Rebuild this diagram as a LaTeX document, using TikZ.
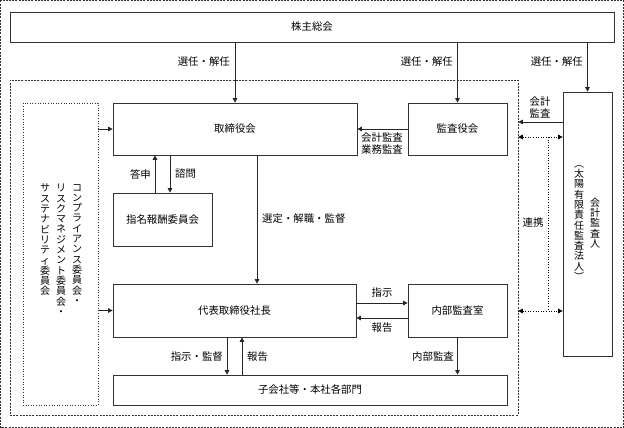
\documentclass[tikz,border=0pt]{standalone}
\usepackage{fontspec}
\newfontfamily\jpfont{Noto Sans CJK JP}
\usetikzlibrary{arrows.meta, positioning}

\tikzset{
  box/.style={draw=black!80, line width=0.7pt, inner sep=0pt},
  frame/.style={draw=black!80, line width=0.6pt, dash pattern=on 2pt off 1.2pt},
  arr/.style={-{Triangle[length=4.5pt, width=4.5pt]}, line width=0.7pt, draw=black!85},
  renkei/.style={{Triangle[length=4.5pt, width=4.5pt]}-{Triangle[length=4.5pt, width=4.5pt]}, line width=0.6pt, dotted},
  tate/.style={align=center, inner sep=0pt, font=\jpfont\fontsize{10}{10.3}\selectfont},
  lbl/.style={inner sep=0pt},
}

\begin{document}
\begin{tikzpicture}[x=1pt, y=-1pt, font=\jpfont\fontsize{10.4}{12}\selectfont]
  \useasboundingbox (0,0) rectangle (624,428);
  % outer frame
  \draw[frame] (0.5,0.5) rectangle (623.5,427.5);

  % shareholders meeting
  \node[box, minimum width=604pt, minimum height=30pt] (kabunushi) at (312,27) {株主総会};

  % company frame
  \node[frame, minimum width=508pt, minimum height=335pt, inner sep=0pt] (kaisha) at (264,247.5) {};

  % boxes
  \node[box, minimum width=244pt, minimum height=52pt] (torishimari) at (235,129) {取締役会};
  \node[box, minimum width=99pt, minimum height=52pt] (kansayaku) at (457.5,129) {監査役会};
  \node[box, minimum width=99pt, minimum height=53pt] (shimei) at (162.5,219.5) {指名報酬委員会};
  \node[box, minimum width=243pt, minimum height=53pt] (shacho) at (234.5,310.5) {代表取締役社長};
  \node[box, minimum width=99pt, minimum height=53pt] (naibu) at (457.5,310.5) {内部監査室};
  \node[box, minimum width=394pt, minimum height=30pt] (kogaisha) at (310,390) {子会社等・本社各部門};
  \node[box, minimum width=49pt, minimum height=264pt] (kansanin) at (587.5,224) {};
  \node[draw=black!80, dotted, line width=0.6pt, minimum width=75pt, minimum height=302pt, inner sep=0pt] (iinkai) at (60.5,254) {};

  % vertical texts
  \node[tate] (kansanin1) at (595,223) {会\\計\\監\\査\\人};
  \node[tate] (kansanin2) at (579,223) {︵\\太\\陽\\有\\限\\責\\任\\監\\査\\法\\人\\︶};
  \node[tate, anchor=north] (iinkai1) at (77,184) {コ\\ン\\プ\\ラ\\イ\\ア\\ン\\ス\\委\\員\\会\\・};
  \node[tate, anchor=north] (iinkai2) at (61,184) {リ\\ス\\ク\\マ\\ネ\\ジ\\メ\\ン\\ト\\委\\員\\会\\・};
  \node[tate, anchor=north] (iinkai3) at (45,184) {サ\\ス\\テ\\ナ\\ビ\\リ\\テ\\ィ\\委\\員\\会};

  % election / dismissal
  \draw[arr] (kabunushi.south -| torishimari) -- (torishimari.north);
  \draw[arr] (kabunushi.south -| kansayaku) -- (kansayaku.north);
  \draw[arr] (kabunushi.south -| kansanin) -- (kansanin.north);
  \node[lbl, anchor=east] (sennin1) at (230,62) {選任・解任};
  \node[lbl, anchor=east] (sennin2) at (453,62) {選任・解任};
  \node[lbl, anchor=east] (sennin3) at (583,62) {選任・解任};

  % board and committee
  \draw[arr] ([xshift=-7.5pt]shimei.north) -- ([xshift=-7.5pt]shimei.north |- torishimari.south);
  \draw[arr] ([xshift=7.5pt]shimei.north |- torishimari.south) -- ([xshift=7.5pt]shimei.north);
  \node[lbl, anchor=east] (toushin) at (151,174) {答申};
  \node[lbl, anchor=west] (shimon) at (175,174) {諮問};

  \draw[arr] ([xshift=22pt]torishimari.south) -- ([xshift=22pt]torishimari.south |- shacho.north);
  \node[lbl, anchor=west] (sentei) at (262,219) {選定・解職・監督};

  \draw[arr] (kansayaku.west) -- (torishimari.east);
  \node[lbl, align=center] (gyomu) at (382,144) {会計監査\\業務監査};

  % committees
  \draw[arr] (iinkai.east |- torishimari.west) -- (torishimari.west);
  \draw[arr] (iinkai.east |- shacho.west) -- (shacho.west);

  % president and internal audit
  \draw[arr] ([yshift=7.5pt]shacho.east) -- ([yshift=7.5pt]shacho.east -| naibu.west);
  \draw[arr] ([yshift=-7.5pt]naibu.west) -- ([yshift=-7.5pt]naibu.west -| shacho.east);
  \node[lbl] (shiji) at (382,293) {指示};
  \node[lbl] (houkoku1) at (382,328) {報告};

  \draw[arr] (naibu.south) -- (naibu.south |- kogaisha.north);
  \node[lbl, anchor=east] (naibukansa) at (454,357) {内部監査};

  \draw[arr] ([xshift=-7.5pt]shacho.south) -- ([xshift=-7.5pt]shacho.south |- kogaisha.north);
  \draw[arr] ([xshift=7.5pt]shacho.south |- kogaisha.north) -- ([xshift=7.5pt]shacho.south);
  \node[lbl, anchor=east] (shijikantoku) at (223,357) {指示・監督};
  \node[lbl, anchor=west] (houkoku2) at (247,357) {報告};

  % accounting auditor
  \draw[arr] (kansanin.west |- 0,122) -- (kaisha.east |- 0,122);
  \node[lbl, align=center] (kaikei) at (540,107) {会計\\監査};

  \coordinate (r1) at (548,137);
  \coordinate (r2) at (548,311);
  \draw[renkei] (kaisha.east |- r1) -- (kansanin.west |- r1);
  \draw[renkei] (kaisha.east |- r2) -- (kansanin.west |- r2);
  \draw[dotted, line width=0.6pt] (r1) -- (r2);
  \node[lbl] (renkeilbl) at (533,223) {連携};
\end{tikzpicture}
\end{document}
